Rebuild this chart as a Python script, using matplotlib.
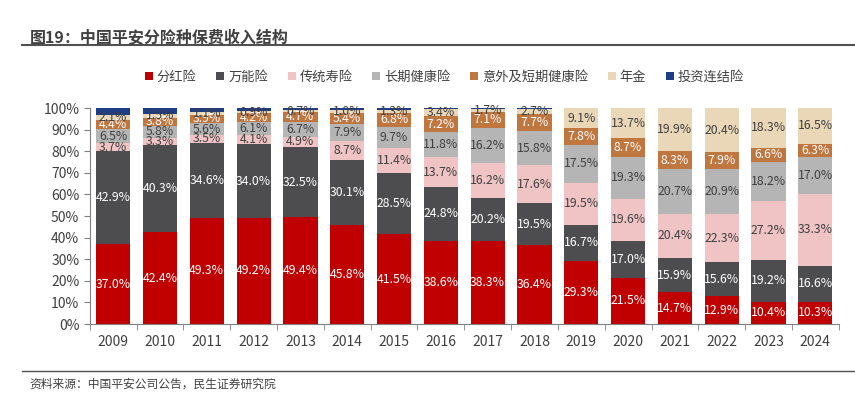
import matplotlib
matplotlib.use('Agg')
import matplotlib.pyplot as plt
import numpy as np

plt.rcParams['font.family'] = ['Noto Sans CJK SC', 'DejaVu Sans']

years = ['2009', '2010', '2011', '2012', '2013', '2014', '2015', '2016',
         '2017', '2018', '2019', '2020', '2021', '2022', '2023', '2024']
names = ['分红险', '万能险', '传统寿险', '长期健康险', '意外及短期健康险', '年金', '投资连结险']

dividend = [37.0, 42.4, 49.3, 49.2, 49.4, 45.8, 41.5, 38.6, 38.3, 36.4, 29.3, 21.5, 14.7, 12.9, 10.4, 10.3]
universal = [42.9, 40.3, 34.6, 34.0, 32.5, 30.1, 28.5, 24.8, 20.2, 19.5, 16.7, 17.0, 15.9, 15.6, 19.2, 16.6]
traditional = [3.7, 3.3, 3.5, 4.1, 4.9, 8.7, 11.4, 13.7, 16.2, 17.6, 19.5, 19.6, 20.4, 22.3, 27.2, 33.3]
health = [6.5, 5.8, 5.6, 6.1, 6.7, 7.9, 9.7, 11.8, 16.2, 15.8, 17.5, 19.3, 20.7, 20.9, 18.2, 17.0]
accident = [4.4, 3.8, 3.9, 4.2, 4.7, 5.4, 6.8, 7.2, 7.1, 7.7, 7.8, 8.7, 8.3, 7.9, 6.6, 6.3]
annuity = [2.1, 1.5, 1.1, 0.9, 0.7, 1.0, 1.3, 3.4, 1.7, 2.7, 9.1, 13.7, 19.9, 20.4, 18.3, 16.5]
unit_linked = [3.4, 2.9, 2.0, 1.5, 1.1, 1.1, 0.8, 0.5, 0.3, 0.3, 0.1, 0.2, 0.1, 0.0, 0.1, 0.0]

series = [dividend, universal, traditional, health, accident, annuity, unit_linked]
colors = ['#C00000', '#4D4D4F', '#F0C4C4', '#B5B5B5', '#C0763F', '#EAD7B7', '#1F3D84']
text_colors = ['white', 'white', '#404040', '#404040', 'white', '#404040', None]

fig = plt.figure(figsize=(8.55, 4), dpi=100)
ax = fig.add_axes([0.105, 0.19, 0.876, 0.54])

x = np.arange(len(years))
bottom = np.zeros(len(years))
for vals, name, c, tc in zip(series, names, colors, text_colors):
    vals = np.array(vals)
    ax.bar(x, vals, bottom=bottom, width=0.73, color=c, label=name)
    if tc is not None:
        for xi, b, v in zip(x, bottom, vals):
            ax.text(xi, b + v / 2, f'{v:.1f}%', ha='center', va='center',
                    fontsize=8.8, color=tc)
    bottom += vals

ax.set_xlim(-0.5, len(years) - 0.5)
ax.set_ylim(0, 100)
ax.set_yticks(np.arange(0, 101, 10))
ax.set_yticklabels([f'{v}%' for v in range(0, 101, 10)])
ax.set_xticks(x)
ax.set_xticklabels(years)
ax.set_xticks(np.arange(-0.5, len(years)), minor=True)
ax.tick_params(axis='x', which='major', length=0, pad=8, labelsize=10, labelcolor='#404040')
ax.tick_params(axis='x', which='minor', length=4, color='#808080')
ax.tick_params(axis='y', length=4, color='#808080', labelsize=10, labelcolor='#404040')
for s in ['top', 'right']:
    ax.spines[s].set_visible(False)
for s in ['left', 'bottom']:
    ax.spines[s].set_color('#808080')

fig.legend(loc='center', bbox_to_anchor=(0.52, 0.807), ncol=7, frameon=False,
           fontsize=9.5, handlelength=0.6, handleheight=0.6, handletextpad=0.3,
           columnspacing=1.5, labelcolor='#404040')

fig.text(0.035, 0.905, '图19：中国平安分险种保费收入结构', fontsize=11.5,
         fontweight='bold', color='#404040', va='center')
fig.add_artist(plt.Line2D([0.026, 1.0], [0.887, 0.887], color='#505050', lw=1.5))
fig.add_artist(plt.Line2D([0.026, 1.0], [0.072, 0.072], color='#505050', lw=1.0))
fig.text(0.035, 0.04, '资料来源：中国平安公司公告，民生证券研究院', fontsize=8.5,
         color='#404040', va='center')

plt.savefig('out.png', dpi=100)
plt.close()
